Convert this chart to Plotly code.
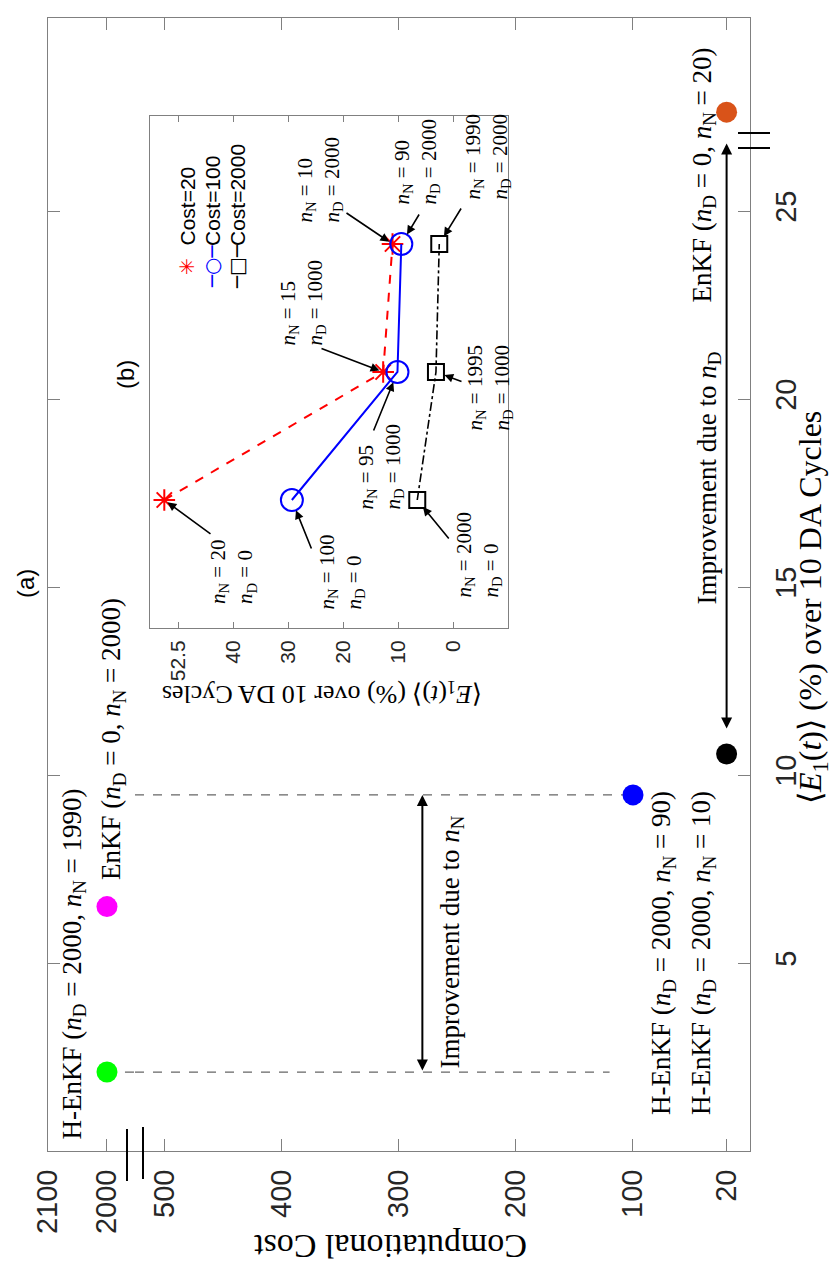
import plotly.graph_objects as go

W, H = 833, 1268

# ---------------- data : panel (a) ----------------
main_method = ["H-EnKF", "EnKF", "H-EnKF", "H-EnKF", "EnKF"]
main_nD = [2000, 0, 2000, 2000, 0]
main_nN = [1990, 2000, 90, 10, 20]
main_cost = [2000, 2000, 100, 20, 20]
main_e1 = [2.1, 6.5, 9.47, 10.56, 52.5]
main_colors = ["#00FF00", "#FF00FF", "#0000FF", "#000000", "#D95319"]

cost_ticks_hi = [2100, 2000]
cost_ticks_lo = [500, 400, 300, 200, 100, 20]
e1_ticks_lo = [5, 10, 15, 20, 25]
e1_ticks_hi = [55]

# dashed reference lines (start at point index, end at cost)
ref_from = [0, 2]
ref_end_cost = [120, 100]

# ---------------- data : panel (b) inset ----------------
inset_nD = [0, 1000, 2000]
inset_pos = [1, 2, 3]
inset_series = ["Cost=20", "Cost=100", "Cost=2000"]
inset_cost20 = [52.5, 12.7, 11.0]
inset_cost100 = [29.3, 10.1, 9.4]
inset_cost2000 = [6.5, 3.1, 2.5]
inset_nN20 = [20, 15, 10]
inset_nN100 = [100, 95, 90]
inset_nN2000 = [2000, 1995, 1990]
inset_tickvals = [50, 40, 30, 20, 10, 0]
inset_ticktext = ["52.5", "40", "30", "20", "10", "0"]

# ---------------- geometry helpers ----------------
def fx(p):
    return p / W


def fy(p):
    return 1 - p / H


COST_HI_RANGE = [2100, 1952.5]
COST_LO_RANGE = [525.6, 0]
E1_LO_RANGE = [0, 26.89]
E1_HI_RANGE = [51.76, 55]

L, R, T, B = 48, 750, 18, 1151
XB, YB = 135, 140

GREY = "#808080"
TXT = "#262626"
SANS = "Liberation Sans"
SERIF = "Liberation Serif"

fig = go.Figure()


def subplot_of(cost, e1):
    hi_x = cost >= 1000
    hi_y = e1 >= 40
    if hi_x and not hi_y:
        return "x", "y"
    if not hi_x and not hi_y:
        return "x2", "y2"
    if hi_x and hi_y:
        return "x3", "y3"
    return "x4", "y4"


# empty trace so that the upper-left axis segment is created
fig.add_trace(go.Scatter(x=[], y=[], xaxis="x3", yaxis="y3", mode="markers",
                         showlegend=False))

# dashed reference lines
for idx, end_c in zip(ref_from, ref_end_cost):
    lvl = main_e1[idx]
    fig.add_trace(go.Scatter(x=[main_cost[idx], COST_HI_RANGE[1]], y=[lvl, lvl],
                             xaxis="x", yaxis="y", mode="lines",
                             line=dict(color="#666666", width=1.2, dash="dash"),
                             showlegend=False, hoverinfo="skip"))
    fig.add_trace(go.Scatter(x=[COST_LO_RANGE[0], end_c], y=[lvl, lvl],
                             xaxis="x2", yaxis="y2", mode="lines",
                             line=dict(color="#666666", width=1.2, dash="dash"),
                             showlegend=False, hoverinfo="skip"))

# main dots
for c, e, col in zip(main_cost, main_e1, main_colors):
    xa, ya = subplot_of(c, e)
    fig.add_trace(go.Scatter(x=[c], y=[e], xaxis=xa, yaxis=ya, mode="markers",
                             marker=dict(size=21, color=col, line=dict(width=0)),
                             cliponaxis=False, showlegend=False))

# inset traces
inset_styles = [
    (inset_cost20, "red", "dash", "asterisk-open", 18, 2),
    (inset_cost100, "blue", "solid", "circle-open", 22, 2),
    (inset_cost2000, "black", "dashdot", "square-open", 16, 1.6),
]
for name, (vals, col, dash, sym, size, lw) in zip(inset_series, inset_styles):
    fig.add_trace(go.Scatter(x=vals, y=inset_pos, xaxis="x5", yaxis="y5",
                             mode="lines+markers", name=name,
                             line=dict(color=col, width=lw, dash=dash),
                             marker=dict(symbol=sym, size=size, color=col,
                                         line=dict(width=2, color=col)),
                             cliponaxis=False, showlegend=False))

# ---------------- axes ----------------
base = dict(showgrid=False, zeroline=False, showline=True, linecolor=GREY,
            linewidth=1, ticks="inside", tickcolor=GREY, ticklen=12, tickwidth=1,
            tickfont=dict(family=SANS, size=29, color=TXT), autorange=False,
            automargin=False)

fig.update_layout(
    template="none",
    width=W, height=H, autosize=False,
    margin=dict(l=0, r=0, t=0, b=0, pad=0),
    paper_bgcolor="white", plot_bgcolor="white", showlegend=False,
    xaxis=dict(base, domain=[fx(L), fx(XB)], anchor="y", range=COST_HI_RANGE,
               tickvals=cost_ticks_hi, ticktext=[str(v) for v in cost_ticks_hi],
               tickangle=-90, ticklabelstandoff=6),
    xaxis2=dict(base, domain=[fx(XB), fx(R)], anchor="y2", range=COST_LO_RANGE,
                tickvals=cost_ticks_lo, ticktext=[str(v) for v in cost_ticks_lo],
                tickangle=-90, ticklabelstandoff=6),
    xaxis3=dict(base, domain=[fx(L), fx(XB)], anchor="y3", side="top",
                range=COST_HI_RANGE, tickvals=cost_ticks_hi, showticklabels=False),
    xaxis4=dict(base, domain=[fx(XB), fx(R)], anchor="y4", side="top",
                range=COST_LO_RANGE, tickvals=cost_ticks_lo, showticklabels=False),
    yaxis=dict(base, domain=[fy(B), fy(YB)], anchor="x", side="left",
               range=E1_LO_RANGE, tickvals=e1_ticks_lo, showticklabels=False),
    yaxis2=dict(base, domain=[fy(B), fy(YB)], anchor="x2", side="right",
                range=E1_LO_RANGE, tickvals=e1_ticks_lo,
                ticktext=[str(v) for v in e1_ticks_lo], tickangle=-90,
                ticklabelstandoff=10),
    yaxis3=dict(base, domain=[fy(YB), fy(T)], anchor="x3", side="left",
                range=E1_HI_RANGE, tickvals=e1_ticks_hi, showticklabels=False),
    yaxis4=dict(base, domain=[fy(YB), fy(T)], anchor="x4", side="right",
                range=E1_HI_RANGE, tickvals=e1_ticks_hi,
                ticktext=[str(v) for v in e1_ticks_hi], tickangle=-90,
                ticklabelstandoff=10),
    xaxis5=dict(base, domain=[fx(150), fx(508)], anchor="y5", range=[55.1, -10],
                tickvals=inset_tickvals, ticktext=inset_ticktext, tickangle=-90,
                ticklen=6, mirror="ticks",
                tickfont=dict(family=SANS, size=21, color=TXT), ticklabelstandoff=3),
    yaxis5=dict(base, domain=[fy(628), fy(116)], anchor="x5", range=[0, 4],
                ticks="", showticklabels=False, mirror=True),
)

# ---------------- break marks ----------------
shapes = []
for yy in (133, 148):
    shapes.append(dict(type="line", xref="paper", yref="paper",
                       x0=fx(738), x1=fx(770), y0=fy(yy), y1=fy(yy),
                       line=dict(color="black", width=2)))
for xx, y0, y1 in ((127, 1129, 1181), (143, 1127, 1179)):
    shapes.append(dict(type="line", xref="paper", yref="paper",
                       x0=fx(xx), x1=fx(xx), y0=fy(y0), y1=fy(y1),
                       line=dict(color="black", width=2)))
fig.update_layout(shapes=shapes)

ann = []


def ptext(text, xp, yp, size, family=SERIF, angle=-90, xanchor="center",
          yanchor="bottom", align="left", color="black"):
    ann.append(dict(text=text, x=fx(xp), y=fy(yp), xref="paper", yref="paper",
                    showarrow=False, textangle=angle, xanchor=xanchor,
                    yanchor=yanchor, align=align,
                    font=dict(family=family, size=size, color=color)))


def nsub(s):
    return "<i>n</i><sub>%s</sub>" % s


# main point labels
main_label_px = [(73, 1142), (113, 882), (663, 1117), (703, 1117), (703, 305)]
for m, d, n, (xp, yp) in zip(main_method, main_nD, main_nN, main_label_px):
    ptext("%s (%s = %d, %s = %d)" % (m, nsub("D"), d, nsub("N"), n), xp, yp, 27)

ptext("Improvement due to " + nsub("N"), 451, 1070, 27)
ptext("Improvement due to " + nsub("D"), 708, 607, 27)

# titles and axis labels
ptext("(a)", 25, 584, 24, family=SANS, yanchor="middle")
ptext("(b)", 126, 374, 24, family=SANS, yanchor="middle")
ptext("Computational Cost", 390, 1247, 34, angle=180, yanchor="middle")
ptext("⟨<i>E</i><sub>1</sub>(<i>t</i>)⟩ (%) over 10 DA Cycles", 812, 608, 32,
      yanchor="middle")
ptext("⟨<i>E</i><sub>1</sub>(<i>t</i>)⟩ (%) over 10 DA Cycles", 322, 693, 26,
      angle=180, yanchor="middle")

# improvement double arrows (main)
ann.append(dict(x=280, y=main_e1[2], ax=280, ay=main_e1[0], xref="x2", yref="y2",
                axref="x2", ayref="y2", text="", showarrow=True,
                arrowside="end+start", arrowhead=2, startarrowhead=2,
                arrowsize=1.1, startarrowsize=1.1, arrowwidth=2, arrowcolor="black"))
ann.append(dict(x=main_cost[3], y=26.8, ax=main_cost[3], ay=11.2, xref="x2",
                yref="y2", axref="x2", ayref="y2", text="", showarrow=True,
                arrowside="end+start", arrowhead=2, startarrowhead=2,
                arrowsize=1.1, startarrowsize=1.1, arrowwidth=2, arrowcolor="black"))

# inset labels and arrows
def ix(px):
    return 55.1 + (px - 150) / (508 - 150) * (-65.1)


def iy(py):
    return (628 - py) / 512 * 4


label_px = [[(233, 606), (302, 348), (319, 225)],
            [(341, 612), (381, 512), (417, 207)],
            [(479, 600), (489, 433), (487, 202)]]
tail_px = [[(212, 535), (320, 348), (345, 212)],
           [(312, 550), (373, 432), (420, 213)],
           [(450, 540), (463, 382), (462, 207)]]
standoffs = [4, 11, 9]
for s, (vals, nNs) in enumerate([(inset_cost20, inset_nN20),
                                 (inset_cost100, inset_nN100),
                                 (inset_cost2000, inset_nN2000)]):
    for k in range(3):
        lx, ly = label_px[s][k]
        ptext("%s = %d<br>%s = %d" % (nsub("N"), nNs[k], nsub("D"), inset_nD[k]),
              lx, ly, 21)
        tx, ty = tail_px[s][k]
        ann.append(dict(x=vals[k], y=inset_pos[k], ax=ix(tx), ay=iy(ty),
                        xref="x5", yref="y5", axref="x5", ayref="y5", text="",
                        showarrow=True, arrowhead=2, arrowsize=1.1, arrowwidth=1.6,
                        arrowcolor="black", standoff=standoffs[s]))

# inset legend (rotated)
leg_glyph = ["✳", "─○─", "─□─"]
leg_color = ["red", "blue", "black"]
leg_x = [187, 212, 237]
for name, g, c, xp in zip(inset_series, leg_glyph, leg_color, leg_x):
    ptext(g, xp, 267, 20, family="DejaVu Sans", yanchor="middle", color=c)
    ptext(name, xp, 248, 21, family=SANS)

fig.update_layout(annotations=ann)

fig.write_html("out.html", config={"displayModeBar": False},
               post_script="document.body.style.margin='0px';"
                           "document.body.style.overflow='hidden';")
